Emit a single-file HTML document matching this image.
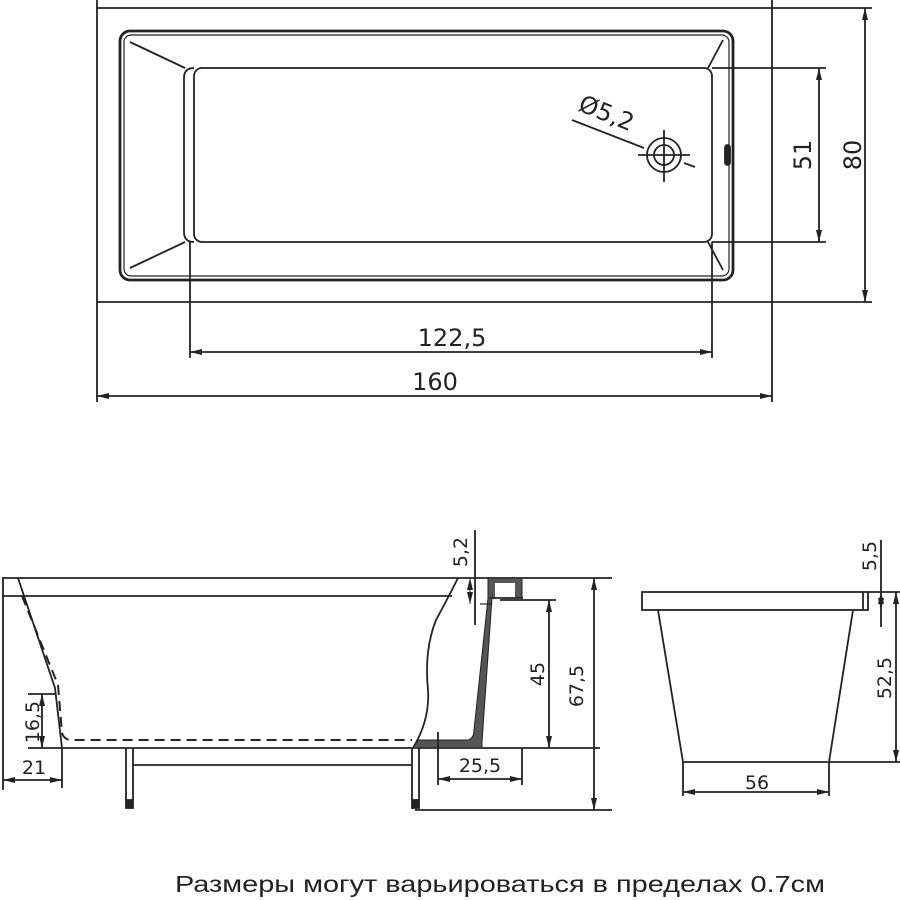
<!DOCTYPE html>
<html><head><meta charset="utf-8"><style>
html,body{margin:0;padding:0;background:#fff;width:900px;height:900px;overflow:hidden}
svg{display:block}
text{font-family:"DejaVu Sans","Liberation Sans",sans-serif;fill:#222}
</style></head><body>
<svg width="900" height="900" viewBox="0 0 900 900" xmlns="http://www.w3.org/2000/svg">
<defs>
<marker id="a" viewBox="0 0 12 6" refX="12" refY="3" markerWidth="12" markerHeight="6" orient="auto-start-reverse" markerUnits="userSpaceOnUse"><path d="M0,0 L12,3 L0,6 z" fill="#222"/></marker>
</defs>
<g stroke="#222" fill="none" stroke-width="1.8">
<line x1="97" y1="0" x2="97" y2="402"/>
<line x1="772" y1="0" x2="772" y2="402"/>
<line x1="97" y1="8" x2="872" y2="8"/>
<line x1="97" y1="302" x2="872" y2="302"/>
<rect x="120" y="31" width="613" height="249" rx="10" stroke-width="2.8"/>
<rect x="124" y="35" width="605" height="241" rx="7" stroke-width="1.2"/>
<rect x="194" y="68" width="518" height="174" rx="8"/>
<path d="M194,68 Q184,68 184,78 L184,232 Q184,242 194,242"/>
<line x1="130" y1="42" x2="185" y2="68"/>
<line x1="130" y1="268" x2="185" y2="242"/>
<line x1="723" y1="40" x2="708" y2="68"/>
<line x1="708" y1="242" x2="723" y2="270"/>
<rect x="725" y="145" width="5" height="20" rx="2.5" fill="#222"/>
<circle cx="664" cy="155" r="17"/>
<circle cx="664" cy="155" r="10"/>
<line x1="664" y1="130" x2="664" y2="182"/>
<line x1="638" y1="155" x2="690" y2="155"/>
<line x1="572" y1="120" x2="644" y2="148"/>
<line x1="684" y1="163" x2="695" y2="167"/>
<line x1="712" y1="68" x2="826" y2="68"/>
<line x1="712" y1="242" x2="826" y2="242"/>
<line x1="819" y1="68" x2="819" y2="242" marker-start="url(#a)" marker-end="url(#a)"/>
<line x1="865" y1="8" x2="865" y2="302" marker-start="url(#a)" marker-end="url(#a)"/>
<line x1="190" y1="242" x2="190" y2="358"/>
<line x1="712" y1="242" x2="712" y2="358"/>
<line x1="190" y1="352" x2="712" y2="352" marker-start="url(#a)" marker-end="url(#a)"/>
<line x1="97" y1="396" x2="772" y2="396" marker-start="url(#a)" marker-end="url(#a)"/>

<line x1="2" y1="578" x2="612" y2="578"/>
<line x1="2" y1="596" x2="452" y2="596"/>
<line x1="3" y1="578" x2="3" y2="790"/>
<line x1="28" y1="748" x2="600" y2="748"/>
<line x1="415" y1="810" x2="612" y2="810"/>
<path d="M18,578 L55,688 L62,748"/>
<path d="M22,596 L58,685 L62,733 Q64,740 72,740 L412,740" stroke-dasharray="10,6" stroke-width="2"/>
<path d="M458,578 Q448,598 436,620 Q424,650 428,690 Q430,720 413,748"/>
<path d="M488,578 L522,578 L522,598 L492,598 L482,742 L482,748 L413,748 L418,740 L468,740 Q474,738 474,730 L488,598 Z" fill="#555" stroke-width="1"/>
<rect x="495" y="583" width="20" height="15" fill="#fff" stroke="none"/>
<line x1="490" y1="598" x2="523" y2="598"/>
<line x1="480" y1="604" x2="492" y2="604" stroke-width="1.2"/>
<line x1="126" y1="748" x2="126" y2="800"/><line x1="133" y1="748" x2="133" y2="800"/>
<rect x="126" y="800" width="7" height="8" fill="#222"/>
<line x1="412" y1="748" x2="412" y2="800"/><line x1="419" y1="748" x2="419" y2="800"/>
<rect x="412" y="800" width="7" height="8" fill="#222"/>
<line x1="133" y1="765" x2="412" y2="765"/>
<line x1="475" y1="530" x2="475" y2="625"/>
<line x1="470" y1="578" x2="470" y2="604" stroke-width="1" marker-start="url(#a)" marker-end="url(#a)"/>
<line x1="500" y1="600" x2="556" y2="600"/>
<line x1="549" y1="600" x2="549" y2="748" marker-start="url(#a)" marker-end="url(#a)"/>
<line x1="594" y1="578" x2="594" y2="810" marker-start="url(#a)" marker-end="url(#a)"/>
<line x1="28" y1="694" x2="55" y2="694"/>
<line x1="42" y1="694" x2="42" y2="748" marker-start="url(#a)" marker-end="url(#a)"/>
<line x1="62" y1="748" x2="62" y2="788"/>
<line x1="3" y1="780" x2="62" y2="780" marker-start="url(#a)" marker-end="url(#a)"/>
<line x1="438" y1="732" x2="438" y2="785"/>
<line x1="522" y1="748" x2="522" y2="785"/>
<line x1="438" y1="779" x2="522" y2="779" marker-start="url(#a)" marker-end="url(#a)"/>

<rect x="642" y="592" width="226" height="18"/>
<line x1="863" y1="592" x2="863" y2="610"/>
<path d="M658,610 L683,762 L829,762 L853,610"/>
<line x1="829" y1="762" x2="900" y2="762"/>
<line x1="868" y1="592" x2="900" y2="592"/>
<line x1="881" y1="540" x2="881" y2="627"/>
<line x1="881" y1="592" x2="881" y2="610" stroke-width="1" marker-start="url(#a)" marker-end="url(#a)"/>
<line x1="896" y1="592" x2="896" y2="762" marker-start="url(#a)" marker-end="url(#a)"/>
<line x1="683" y1="762" x2="683" y2="796"/>
<line x1="829" y1="762" x2="829" y2="796"/>
<line x1="683" y1="792" x2="829" y2="792" marker-start="url(#a)" marker-end="url(#a)"/>
</g>
<g font-size="24">
<text x="452" y="346" text-anchor="middle">122,5</text>
<text x="435" y="390" text-anchor="middle">160</text>
<text transform="translate(811,155) rotate(-90)" text-anchor="middle">51</text>
<text transform="translate(861,155) rotate(-90)" text-anchor="middle">80</text>
<text transform="translate(577,110) rotate(22)">Ø5,2</text>
<text transform="translate(467,552) rotate(-90)" text-anchor="middle" font-size="19">5,2</text>
<text transform="translate(544,674) rotate(-90)" text-anchor="middle" font-size="19">45</text>
<text transform="translate(583,686) rotate(-90)" text-anchor="middle" font-size="19">67,5</text>
<text transform="translate(39,722) rotate(-90)" text-anchor="middle" font-size="19">16,5</text>
<text x="34" y="774" text-anchor="middle" font-size="19">21</text>
<text x="480" y="772" text-anchor="middle" font-size="19">25,5</text>
<text transform="translate(876,556) rotate(-90)" text-anchor="middle" font-size="19">5,5</text>
<text transform="translate(891,678) rotate(-90)" text-anchor="middle" font-size="19">52,5</text>
<text x="757" y="789" text-anchor="middle" font-size="19">56</text>
<text x="175" y="892" font-size="23" textLength="650" lengthAdjust="spacingAndGlyphs" style="font-family:'Liberation Sans',sans-serif">Размеры могут варьироваться в пределах 0.7см</text>
</g>
</svg>
</body></html>
